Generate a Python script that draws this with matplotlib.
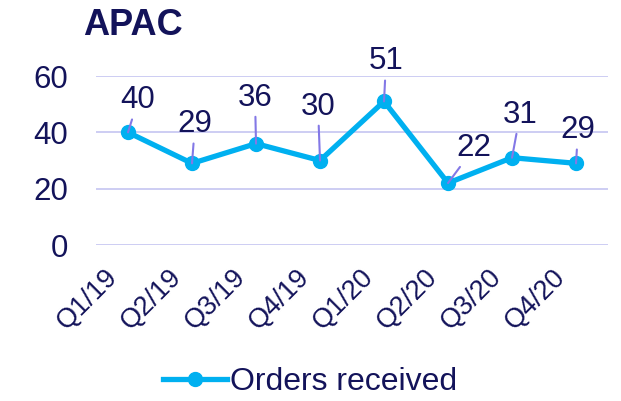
import matplotlib.pyplot as plt
from matplotlib.transforms import offset_copy

plt.rcParams['font.family'] = ['Liberation Sans', 'DejaVu Sans']

quarters = ['Q1/19', 'Q2/19', 'Q3/19', 'Q4/19', 'Q1/20', 'Q2/20', 'Q3/20', 'Q4/20']
orders = [40, 29, 36, 30, 51, 22, 31, 29]
yticks = [0, 20, 40, 60]

# where each value label sits relative to its point (pixels)
label_offsets = [(10, 32), (3, 39), (-1, 46), (-2, 54), (2, 40), (26, 35), (8, 43), (2, 33)]

navy = '#13135a'
line_col = '#00b0f0'
grid_col = '#c9c9f2'
leader_col = '#8378e6'

fig = plt.figure(figsize=(6.21, 4.01), dpi=100)
ax = fig.add_axes([0.1546, 0.389, 0.8245, 0.4214])

x = list(range(len(quarters)))
ax.plot(x, orders, color=line_col, lw=3.8, marker='o', ms=10,
        label='Orders received', clip_on=False, zorder=3)

for xi, v, off in zip(x, orders, label_offsets):
    ax.annotate(str(v), (xi, v), xytext=off, textcoords='offset pixels',
                ha='center', va='center', fontsize=22.5, color=navy,
                arrowprops=dict(arrowstyle='-', color=leader_col, lw=1.5,
                                shrinkA=1, shrinkB=0), zorder=4)

ax.set_xlim(-0.5, len(quarters) - 0.5)
ax.set_ylim(0, 60)
ax.set_yticks(yticks)
ax.set_xticks(x)
ax.set_xticklabels(quarters, rotation=45, ha='right', rotation_mode='anchor')
ax.tick_params(axis='y', length=0, pad=20, labelsize=22.5, labelcolor=navy)
ax.tick_params(axis='x', length=0, pad=14, labelsize=19.5, labelcolor=navy)
for lab in ax.get_xticklabels():
    lab.set_transform(offset_copy(lab.get_transform(), fig=fig, x=-24, y=0, units='dots'))
ax.grid(axis='y', color=grid_col, lw=1.3)
ax.set_axisbelow(True)
for s in ax.spines.values():
    s.set_visible(False)

fig.text(0.134, 0.937, 'APAC', fontsize=26, fontweight='bold', color=navy,
         ha='left', va='center')

fig.legend(loc='lower center', bbox_to_anchor=(0.5, -0.062), frameon=False,
           fontsize=23, labelcolor=navy, handlelength=2.0, handletextpad=0.1)

fig.savefig('out.png', dpi=100)
